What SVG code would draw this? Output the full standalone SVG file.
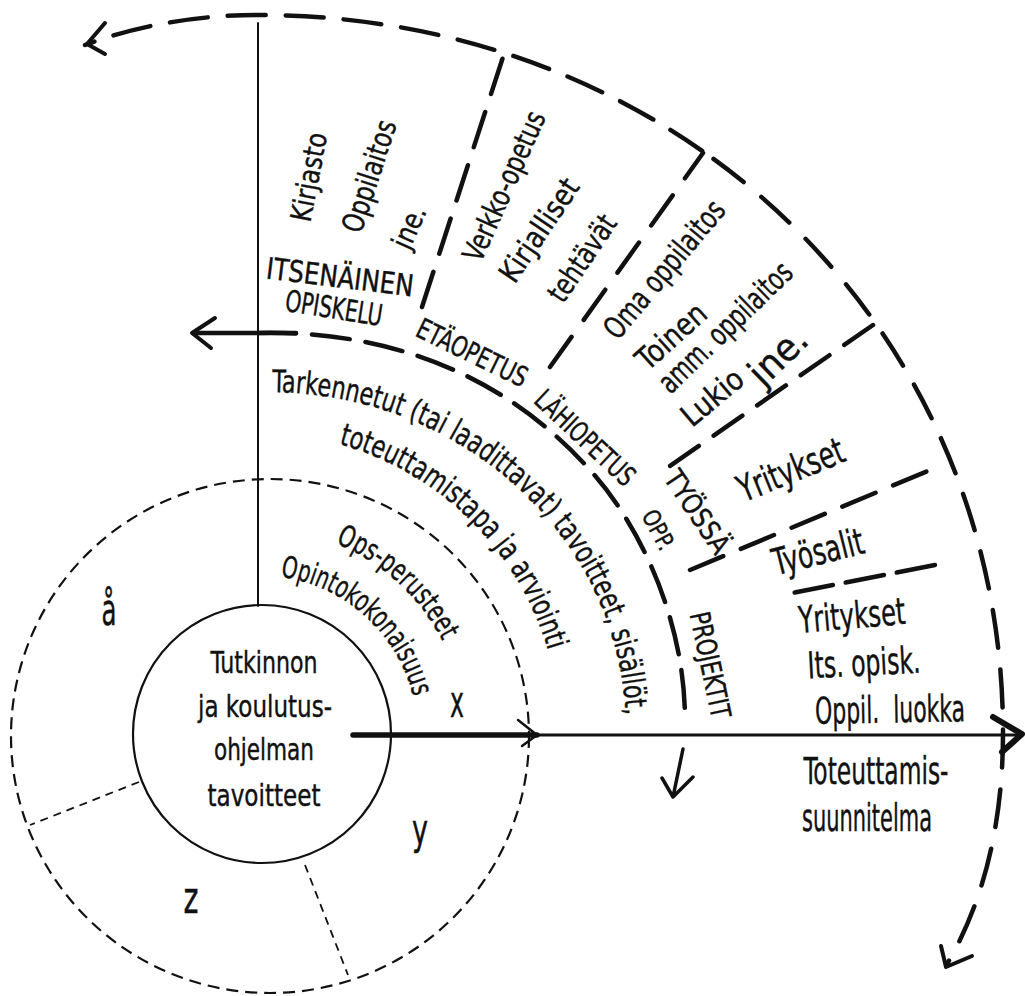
<svg xmlns="http://www.w3.org/2000/svg" width="1025" height="996" viewBox="0 0 1025 996">
<style>
.t{font-family:"Liberation Sans Narrow","DejaVu Sans Condensed","Liberation Sans",Arial,sans-serif;fill:#111;stroke:#111;stroke-width:0.4}
.c{text-anchor:middle;dominant-baseline:central}
.m{text-anchor:middle}
.dash{fill:none;stroke:#111;stroke-width:4.5;stroke-linecap:round}
.ln{fill:none;stroke:#111;stroke-linecap:round;stroke-linejoin:round}
.fine{fill:none;stroke:#111;stroke-width:2.2;stroke-dasharray:12 7}
.fine2{fill:none;stroke:#111;stroke-width:1.8;stroke-dasharray:8 6}
</style>
<defs>
<path id="tp1" d="M268,392 C465.7,392 626,543.3 626,730"/>
<path id="tp2" d="M338.7,444 A302,302 0 0 1 555.4,682.6"/>
<path id="tp3" d="M335.5,543.1 A207,207 0 0 1 452.5,664.2"/>
<path id="tp4" d="M280.3,576.6 A160,160 0 0 1 414.5,701.7"/>
</defs>
<rect width="1025" height="996" fill="#fff"/>

<g id="connectors">
  <!-- outer dashed arc, split at the two junctions -->
  <path class="dash" style="stroke-dasharray:38 20" d="M702.1,150.8 C579.3,64.9 426.4,15 258,15 C190,15 130,28 85,45"/>
  <path class="dash" style="stroke-dasharray:38 23;stroke-dashoffset:47" d="M702.1,150.8 C769.7,198 828.2,256.1 875.2,322.8"/>
  <path class="dash" style="stroke-dasharray:38 22;stroke-dashoffset:47" d="M875.2,322.8 C956.3,438 1003,578.7 1003,733 C1003,820 985,900 947,964"/>
  <path class="ln" stroke-width="4" d="M105,23 L87,44 L105,54"/>
  <path class="ln" stroke-width="4" d="M941,946 L946,967 L972,956"/>
  <!-- vertical axis -->
  <line class="ln" stroke-width="2" x1="258" y1="23" x2="258" y2="606"/>
  <!-- inner thick dashed ring with arrows -->
  <path class="dash" style="stroke-dasharray:38 16" d="M258,333 C390,330 505,375 590,470 C640,525 685,620 685,720"/>
  <path class="ln" stroke-width="4.5" d="M193,333 L296,333"/>
  <path class="ln" stroke-width="4" d="M215,318 L192,333 L211,348"/>
  <path class="ln" stroke-width="3.5" d="M683,749 L673,797 M662,778 L673,797 L693,777"/>
  <!-- radial separators -->
  <path class="dash" style="stroke-dasharray:37 19" d="M422,307 L503,57"/>
  <path class="dash" style="stroke-dasharray:37 21" d="M550,367 L703,153"/>
  <path class="dash" style="stroke-dasharray:35 18" d="M873,325 L657,475"/>
  <path class="dash" style="stroke-dasharray:36 19" d="M690,570 L935,468"/>
  <path class="dash" style="stroke-dasharray:39 13" d="M935,565 L792,593"/>
  <!-- horizontal axis -->
  <path class="ln" stroke-width="5.5" d="M353,735 L537,735"/>
  <path class="ln" stroke-width="3" d="M537,735 L1018,735"/>
  <path class="ln" stroke-width="2.5" d="M518,720 L537,735 L522,746"/>
  <path class="ln" stroke-width="6" d="M993,717 L1022,734 L1002,752"/>
  <!-- middle dashed ring and its dividers -->
  <ellipse class="fine" cx="270" cy="736" rx="259" ry="257"/>
  <line class="fine2" x1="139" y1="782" x2="30" y2="825"/>
  <line class="fine2" x1="305" y1="865" x2="348" y2="975"/>
</g>

<g id="core">
  <circle cx="262" cy="734" r="129" fill="none" stroke="#111" stroke-width="2.2"/>
  <text class="t m" font-size="31" x="264" y="673" textLength="107" lengthAdjust="spacingAndGlyphs">Tutkinnon</text>
  <text class="t m" font-size="31" x="265" y="717" textLength="134" lengthAdjust="spacingAndGlyphs">ja koulutus-</text>
  <text class="t m" font-size="31" x="264" y="760" textLength="100" lengthAdjust="spacingAndGlyphs">ohjelman</text>
  <text class="t m" font-size="31" x="264" y="806" textLength="113" lengthAdjust="spacingAndGlyphs">tavoitteet</text>
</g>

<g id="ring-letters">
  <text class="t m" font-size="44" x="457" y="717" textLength="14" lengthAdjust="spacingAndGlyphs">x</text>
  <text class="t m" font-size="42" x="420" y="844" textLength="16" lengthAdjust="spacingAndGlyphs">y</text>
  <text class="t m" font-size="44" x="191" y="913" textLength="15" lengthAdjust="spacingAndGlyphs">z</text>
  <text class="t m" font-size="44" x="109" y="625" textLength="15" lengthAdjust="spacingAndGlyphs">å</text>
</g>

<g id="ops">
  <text class="t" font-size="30"><textPath href="#tp3" textLength="148" lengthAdjust="spacingAndGlyphs">Ops-perusteet</textPath></text>
  <text class="t" font-size="30"><textPath href="#tp4" textLength="190" lengthAdjust="spacingAndGlyphs">Opintokokonaisuus</textPath></text>
</g>

<g id="tarkennetut">
  <text class="t" font-size="31"><textPath href="#tp1" startOffset="4" textLength="528" lengthAdjust="spacingAndGlyphs">Tarkennetut (tai laadittavat) tavoitteet, sisällöt,</textPath></text>
  <text class="t" font-size="31"><textPath href="#tp2" textLength="307" lengthAdjust="spacingAndGlyphs">toteuttamistapa ja arviointi</textPath></text>
</g>

<g id="itsenainen">
  <text class="t c" font-size="30" transform="translate(340,277) rotate(7)" textLength="148" lengthAdjust="spacingAndGlyphs">ITSENÄINEN</text>
  <text class="t c" font-size="30" transform="translate(334,308) rotate(9)" textLength="98" lengthAdjust="spacingAndGlyphs">OPISKELU</text>
  <text class="t c" font-size="29" transform="translate(309,177) rotate(-79)" textLength="90" lengthAdjust="spacingAndGlyphs">Kirjasto</text>
  <text class="t c" font-size="30" transform="translate(369,176) rotate(-72)" textLength="116" lengthAdjust="spacingAndGlyphs">Oppilaitos</text>
  <text class="t c" font-size="29" transform="translate(409,227) rotate(-66)" textLength="44" lengthAdjust="spacingAndGlyphs">jne.</text>
</g>

<g id="etaopetus">
  <text class="t c" font-size="28" transform="translate(472,353) rotate(26)" textLength="120" lengthAdjust="spacingAndGlyphs">ETÄOPETUS</text>
  <text class="t c" font-size="30" transform="translate(504,186) rotate(-66)" textLength="161" lengthAdjust="spacingAndGlyphs">Verkko-opetus</text>
  <text class="t c" font-size="30" transform="translate(539,230) rotate(-56)" textLength="118" lengthAdjust="spacingAndGlyphs">Kirjalliset</text>
  <text class="t c" font-size="30" transform="translate(582,258) rotate(-56)" textLength="98" lengthAdjust="spacingAndGlyphs">tehtävät</text>
</g>

<g id="lahiopetus">
  <text class="t c" font-size="28" transform="translate(585,438) rotate(43)" textLength="126" lengthAdjust="spacingAndGlyphs">LÄHIOPETUS</text>
  <text class="t c" font-size="31" transform="translate(664,269) rotate(-50)" textLength="170" lengthAdjust="spacingAndGlyphs">Oma oppilaitos</text>
  <text class="t c" font-size="31" transform="translate(671,336) rotate(-42)" textLength="83" lengthAdjust="spacingAndGlyphs">Toinen</text>
  <text class="t c" font-size="31" transform="translate(725,327) rotate(-44)" textLength="173" lengthAdjust="spacingAndGlyphs">amm. oppilaitos</text>
  <text class="t c" font-size="31" transform="translate(712,397) rotate(-40)" textLength="71" lengthAdjust="spacingAndGlyphs">Lukio</text>
  <text class="t c" font-size="38" transform="translate(778,356) rotate(-44)" textLength="66" lengthAdjust="spacingAndGlyphs">jne.</text>
</g>

<g id="tyossa">
  <text class="t c" font-size="28" transform="translate(697,512) rotate(56)" textLength="94" lengthAdjust="spacingAndGlyphs">TYÖSSÄ</text>
  <text class="t c" font-size="24" transform="translate(658,530) rotate(62)" textLength="42" lengthAdjust="spacingAndGlyphs">OPP.</text>
  <text class="t c" font-size="37" transform="translate(791,470) rotate(-22)" textLength="112" lengthAdjust="spacingAndGlyphs">Yritykset</text>
  <text class="t c" font-size="37" transform="translate(818,552) rotate(-14)" textLength="93" lengthAdjust="spacingAndGlyphs">Työsalit</text>
</g>

<g id="projektit">
  <text class="t c" font-size="28" transform="translate(710,665) rotate(78)" textLength="108" lengthAdjust="spacingAndGlyphs">PROJEKTIT</text>
  <text class="t c" font-size="37" transform="translate(852,616) rotate(-5)" textLength="107" lengthAdjust="spacingAndGlyphs">Yritykset</text>
  <text class="t c" font-size="37" transform="translate(864,663) rotate(-3)" textLength="113" lengthAdjust="spacingAndGlyphs">Its. opisk.</text>
  <text class="t c" font-size="37" transform="translate(890,710) rotate(-1)" textLength="150" lengthAdjust="spacingAndGlyphs">Oppil.&#160; luokka</text>
</g>

<g id="toteuttamissuunnitelma">
  <text class="t c" font-size="37" x="876" y="771" textLength="145" lengthAdjust="spacingAndGlyphs">Toteuttamis-</text>
  <text class="t c" font-size="37" x="867" y="818" textLength="130" lengthAdjust="spacingAndGlyphs">suunnitelma</text>
</g>
</svg>
